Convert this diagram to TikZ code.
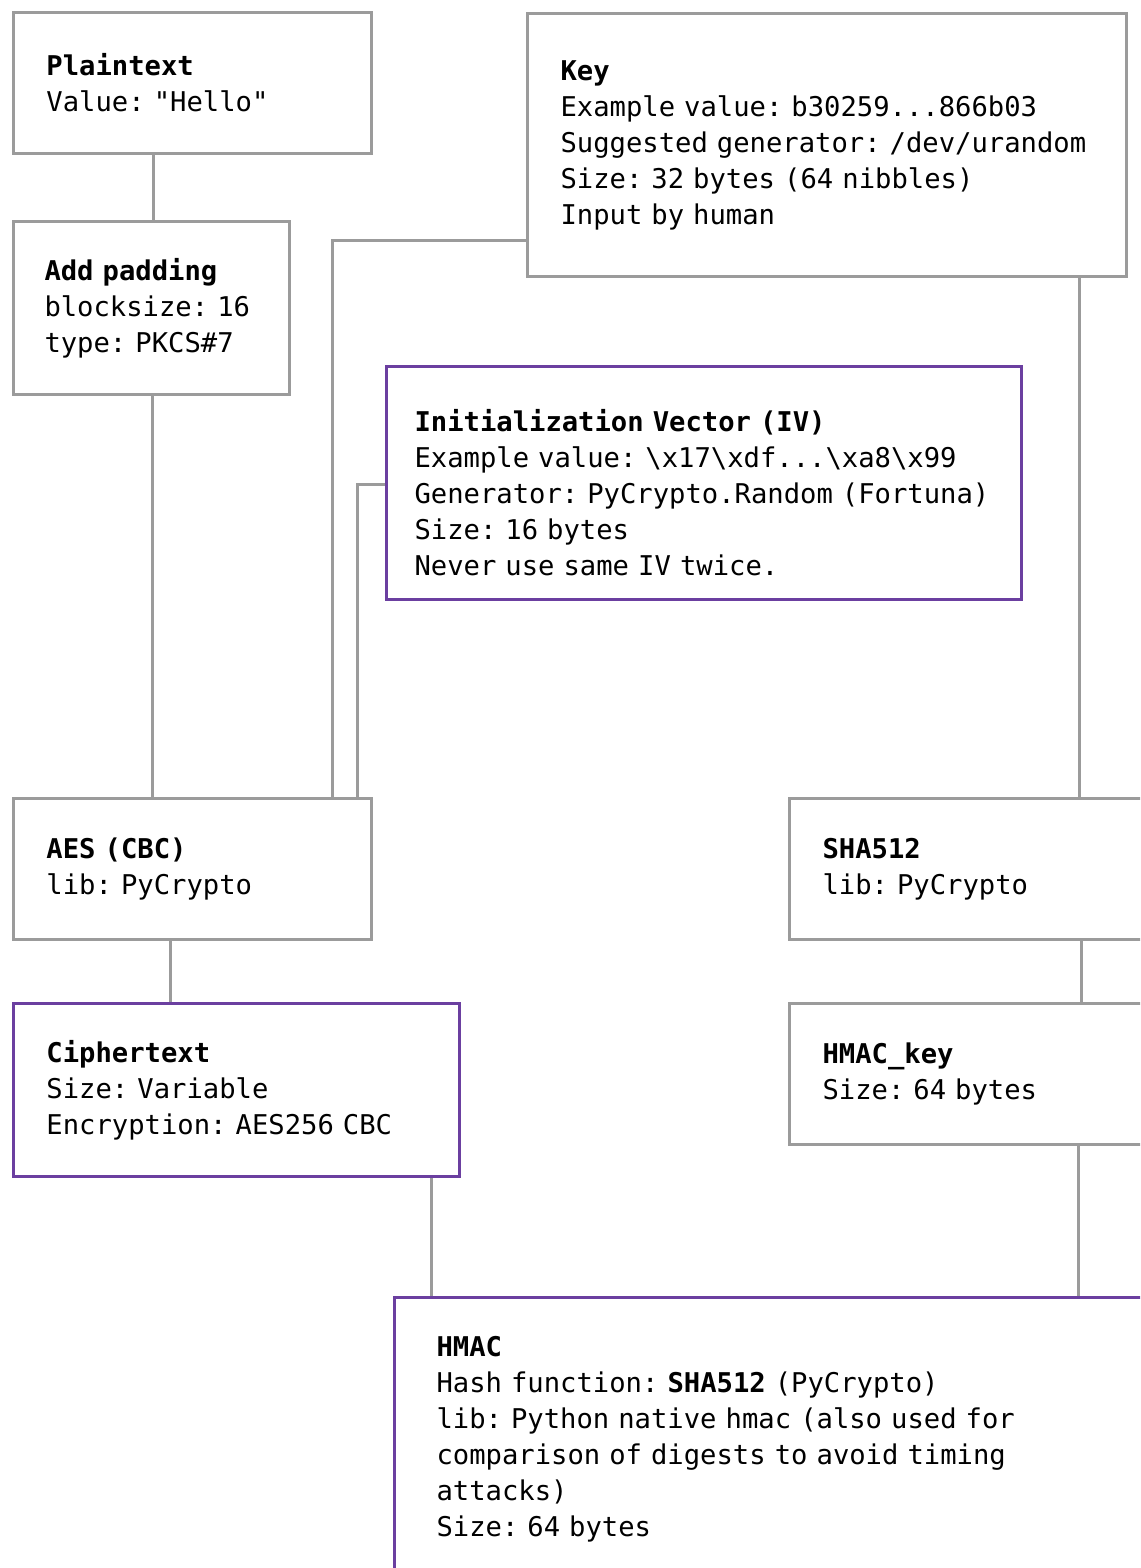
\documentclass[tikz,border=0pt]{standalone}
\usepackage{fontspec}
\setmonofont{DejaVu Sans Mono}
\usepackage{xcolor}
\definecolor{boxgray}{HTML}{9B9B9B}
\definecolor{ivpurple}{HTML}{6B3FA0}
\tikzset{
  block/.style={draw=boxgray, line width=1.5pt, fill=white, anchor=north west,
    align=left, inner xsep=16.5pt, font=\fontsize{13.6}{18}\selectfont\ttfamily\frenchspacing},
  secret/.style={block, draw=ivpurple},
  wire/.style={draw=boxgray, line width=1.5pt}
}

\begin{document}
\begin{tikzpicture}[x=0.5pt,y=-0.5pt]
  \useasboundingbox (0,0) rectangle (1140,1568);
  \clip (0,0) rectangle (1140,1568);

  % left column
  \node[block, text width=146pt, minimum height=70.5pt] (plain) at (12,11)
    {\textbf{Plaintext}\\Value: "Hello"};
  \node[block, inner xsep=15.5pt, text width=107pt, minimum height=86.5pt] (pad) at (12,220)
    {\textbf{Add padding}\\blocksize: 16\\type: PKCS\#7};
  \node[block, text width=146pt, minimum height=70.5pt] (aes) at (12,797)
    {\textbf{AES (CBC)}\\lib: PyCrypto};
  \node[secret, text width=190pt, minimum height=86.5pt] (cipher) at (12,1002)
    {\textbf{Ciphertext}\\Size: Variable\\Encryption: AES256 CBC};

  % key and iv
  \node[block, text width=266.5pt, minimum height=131.5pt] (key) at (526,12)
    {\textbf{Key}\\Example value: b30259...866b03\\Suggested generator: /dev/urandom\\Size: 32 bytes (64 nibbles)\\Input by human};
  \node[secret, inner xsep=14pt, text width=289.5pt, minimum height=116.5pt] (iv) at (385,365)
    {\rule{0pt}{21pt}\textbf{Initialization Vector (IV)}\\Example value: \textbackslash x17\textbackslash xdf...\textbackslash xa8\textbackslash x99\\Generator: PyCrypto.Random (Fortuna)\\Size: 16 bytes\\Never use same IV twice.};

  % right column
  \node[block, text width=158pt, minimum height=70.5pt] (sha) at (788,797)
    {\textbf{SHA512}\\lib: PyCrypto};
  \node[block, text width=158pt, minimum height=70.5pt] (hkey) at (788,1002)
    {\textbf{HMAC\_key}\\Size: 64 bytes};
  \node[secret, inner xsep=21pt, text width=346.5pt, minimum height=142pt] (hmac) at (393,1296)
    {\textbf{HMAC}\\Hash function: \textbf{SHA512} (PyCrypto)\\lib: Python native hmac (also used for\\comparison of digests to avoid timing\\attacks)\\Size: 64 bytes};

  % connectors
  \draw[wire] (plain.south -| 153,0) -- (pad.north -| 153,0);
  \draw[wire] (pad.south -| 152,0) -- (aes.north -| 152,0);
  \draw[wire] (key.west |- 0,240) -| (aes.north -| 332,0);
  \draw[wire] (iv.west |- 0,484) -| (aes.north -| 357,0);
  \draw[wire] (key.south -| 1079,0) -- (sha.north -| 1079,0);
  \draw[wire] (aes.south -| 170,0) -- (cipher.north -| 170,0);
  \draw[wire] (sha.south -| 1081,0) -- (hkey.north -| 1081,0);
  \draw[wire] (cipher.south -| 431,0) -- (hmac.north -| 431,0);
  \draw[wire] (hkey.south -| 1078,0) -- (hmac.north -| 1078,0);
\end{tikzpicture}
\end{document}
